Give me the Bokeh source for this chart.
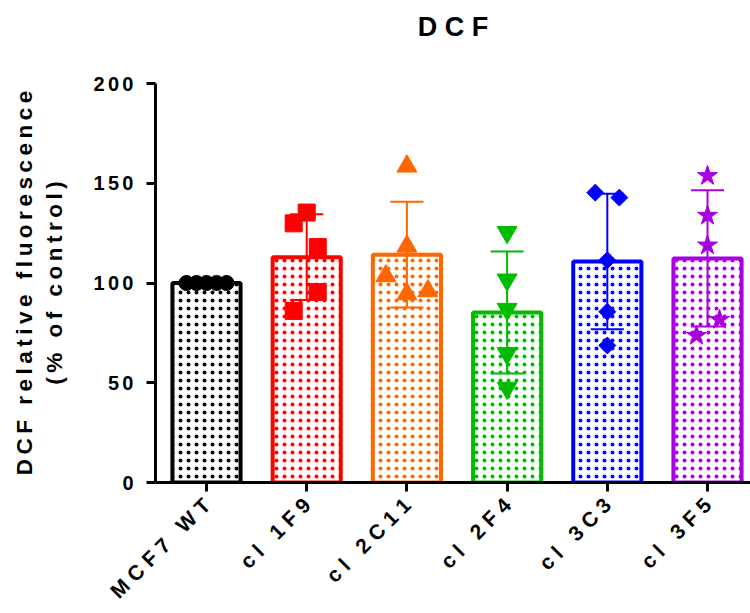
import math
import numpy as np
from bokeh.plotting import figure
from bokeh.models import Range1d, FixedTicker, ColumnDataSource, Title
from bokeh.embed import file_html
from bokeh.resources import INLINE

# --- data ---------------------------------------------------------------
groups = ["MCF7 WT", "cl 1F9", "cl 2C11", "cl 2F4", "cl 3C3", "cl 3F5"]
colors = ["#000000", "#FF0000", "#FF6600", "#00BB00", "#0000FF", "#A800E0"]

# individual replicate values (% of control)
wt_vals = [100, 100, 100, 100, 100]
f9_vals = [135.3, 129.9, 118.0, 95.5, 86.0]
c11_vals = [158.5, 118.4, 103.5, 94.5, 96.0]
f4_vals = [125.4, 101.6, 86.9, 64.7, 47.4]
c3_vals = [145.3, 142.8, 111.4, 85.6, 68.7]
f5_vals = [153.7, 133.8, 118.9, 81.6, 73.6]

# horizontal scatter of the replicate markers within each bar
wt_jit = [-0.2, -0.1, 0.0, 0.1, 0.2]
f9_jit = [0.0, -0.13, 0.11, 0.11, -0.13]
c11_jit = [0.0, 0.0, -0.21, 0.0, 0.21]
f4_jit = [0.0, 0.0, 0.0, 0.0, 0.0]
c3_jit = [-0.12, 0.12, 0.0, 0.0, 0.0]
f5_jit = [0.0, 0.0, 0.0, 0.12, -0.11]

y_ticks = [0, 50, 100, 150, 200]

replicates = [wt_vals, f9_vals, c11_vals, f4_vals, c3_vals, f5_vals]
jitters = [wt_jit, f9_jit, c11_jit, f4_jit, c3_jit, f5_jit]
markers = [("circle", 15, 0), ("square", 17, 0), ("triangle", 20, 0),
           ("inverted_triangle", 20, 0), ("square", 12, math.pi / 4), ("star", 21, 0)]


def spaced(s, gap="\u2009"):
    return gap.join(s)


FONT = "Liberation Sans"

xpos = list(range(len(groups)))
means = [float(np.mean(v)) for v in replicates]
sds = [float(np.std(v, ddof=1)) for v in replicates]

p = figure(width=750, height=613, output_backend="svg", toolbar_location=None,
           x_range=Range1d(-0.509, 5.429), y_range=Range1d(0, 200),
           min_border_left=155, min_border_right=0, min_border_top=83,
           min_border_bottom=128, title=spaced("DCF", " "))
p.outline_line_color = None
p.xgrid.visible = False
p.ygrid.visible = False

p.title.text_font = FONT
p.title.text_font_style = "bold"
p.title.text_font_size = "27px"
p.title.text_color = "black"
p.title.align = "center"
p.title.standoff = 0

# blank band between the title and the plotting area
p.add_layout(Title(text=" ", text_font=FONT, text_font_style="bold",
                   text_font_size="27px", standoff=10), "above")

# bars
bar_src = ColumnDataSource(dict(x=xpos, top=means, color=colors))
p.vbar(x="x", top="top", width=0.68, source=bar_src, fill_color="white",
       line_color="color", line_width=4, hatch_pattern=".", hatch_color="color",
       hatch_scale=8, hatch_weight=0.1)

# mean +/- SD error bars
lo = [m - s for m, s in zip(means, sds)]
hi = [m + s for m, s in zip(means, sds)]
cap = 0.165
err_src = ColumnDataSource(dict(x=xpos, lo=lo, hi=hi, color=colors,
                                xl=[x - cap for x in xpos], xr=[x + cap for x in xpos]))
p.segment(x0="x", y0="lo", x1="x", y1="hi", source=err_src, line_color="color", line_width=2)
p.segment(x0="xl", y0="hi", x1="xr", y1="hi", source=err_src, line_color="color", line_width=2)
p.segment(x0="xl", y0="lo", x1="xr", y1="lo", source=err_src, line_color="color", line_width=2)

# replicate points
for i, (vals, jit, col, (mk, sz, ang)) in enumerate(zip(replicates, jitters, colors, markers)):
    p.scatter([i + j for j in jit], vals, marker=mk, size=sz, angle=ang,
              fill_color=col, line_color=col)

# axes
for ax in (p.xaxis[0], p.yaxis[0]):
    ax.axis_line_width = 3
    ax.major_tick_line_width = 3
    ax.major_tick_out = 9
    ax.major_tick_in = 0
    ax.minor_tick_line_color = None
    ax.major_label_text_font = FONT
    ax.major_label_text_font_style = "bold"
    ax.major_label_text_color = "black"

p.xaxis.ticker = FixedTicker(ticks=xpos)
p.xaxis.major_label_overrides = {i: spaced(g, "\u2009\u200a") for i, g in enumerate(groups)}
p.xaxis.major_label_orientation = math.pi / 4
p.xaxis.major_label_standoff = 10
p.xaxis.major_label_text_font_size = "21px"

p.yaxis.ticker = FixedTicker(ticks=y_ticks)
p.yaxis.major_label_overrides = {t: spaced(str(t), "\u200a\u200a") for t in y_ticks}
p.yaxis.major_label_standoff = 13
p.yaxis.major_label_text_font_size = "20px"
p.yaxis.axis_label = spaced("DCF relative fluorescence") + "\n" + spaced("(% of control)")
p.yaxis.axis_label_text_font = FONT
p.yaxis.axis_label_text_font_style = "bold"
p.yaxis.axis_label_text_font_size = "22.5px"
p.yaxis.axis_label_text_color = "black"
p.yaxis.axis_label_standoff = 23

open("out.html", "w").write(file_html(p, INLINE))
